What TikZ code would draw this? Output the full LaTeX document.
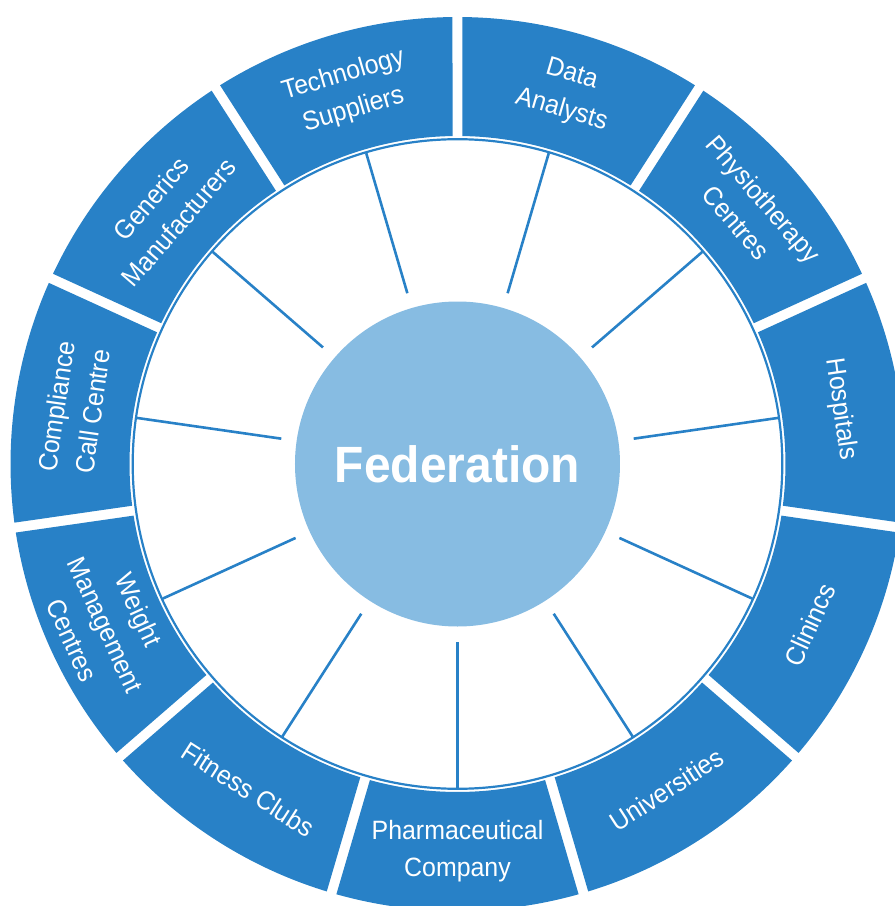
\documentclass[tikz,border=0pt]{standalone}
\usepackage{fontspec}
\setmainfont[FakeStretch=0.94]{Liberation Sans}
\definecolor{segblue}{RGB}{40,129,199}
\definecolor{hubblue}{RGB}{135,188,226}
\begin{document}
\begin{tikzpicture}[
  seg/.style={fill=segblue, draw=none},
  spoke/.style={draw=segblue, line width=2.6pt},
  ring/.style={draw=segblue, line width=2.2pt},
  lab/.style={text=white, align=center, inner sep=0pt,
    font=\fontsize{26.5pt}{36.5pt}\selectfont},
  hub/.style={circle, fill=hubblue, minimum size=325pt, inner sep=0pt,
    text=white, font=\fontsize{51pt}{51pt}\selectfont\bfseries}
]
\useasboundingbox (-457.5pt,464pt) rectangle (437.5pt,-442pt);
\clip (-457.5pt,464pt) rectangle (437.5pt,-442pt);
\node[hub] (fed) at (0pt,0pt) {Federation};
\draw[ring] (fed.center) circle[radius=324.8pt];
\foreach \i/\c/\rot/\txt in {
  0/106.3636/16.3636/{Technology\\Suppliers},
  1/73.6364/-16.3636/{Data\\Analysts},
  2/40.9091/-49.0909/{Physiotherapy\\Centres},
  3/8.1818/-81.8182/{Hospitals},
  4/-24.5455/65.4545/{Clinincs},
  5/-57.2727/32.7273/{Universities},
  6/-90/0/{Pharmaceutical\\Company},
  7/-122.7273/-32.7273/{Fitness Clubs},
  8/-155.4545/-65.4545/{Weight\\Management\\Centres},
  9/171.8182/81.8182/{Compliance\\Call Centre},
  10/139.0909/49.0909/{Generics\\Manufacturers}}{
  \pgfmathsetmacro\aO{\c-16.3636+0.641}
  \pgfmathsetmacro\bO{\c+16.3636-0.641}
  \pgfmathsetmacro\aI{\c-16.3636+0.873}
  \pgfmathsetmacro\bI{\c+16.3636-0.873}
  \fill[seg] (\aO:447pt) arc[start angle=\aO, end angle=\bO, radius=447pt]
    -- (\bI:328pt) arc[start angle=\bI, end angle=\aI, radius=328pt] -- cycle;
  \node[lab, rotate=\rot] (lab\i) at (\c:387pt) {\txt};
  \coordinate (sa\i) at (\c:178pt);
  \coordinate (sb\i) at (\c:324pt);
  \draw[spoke] (sa\i) -- (sb\i);
}
\end{tikzpicture}
\end{document}
